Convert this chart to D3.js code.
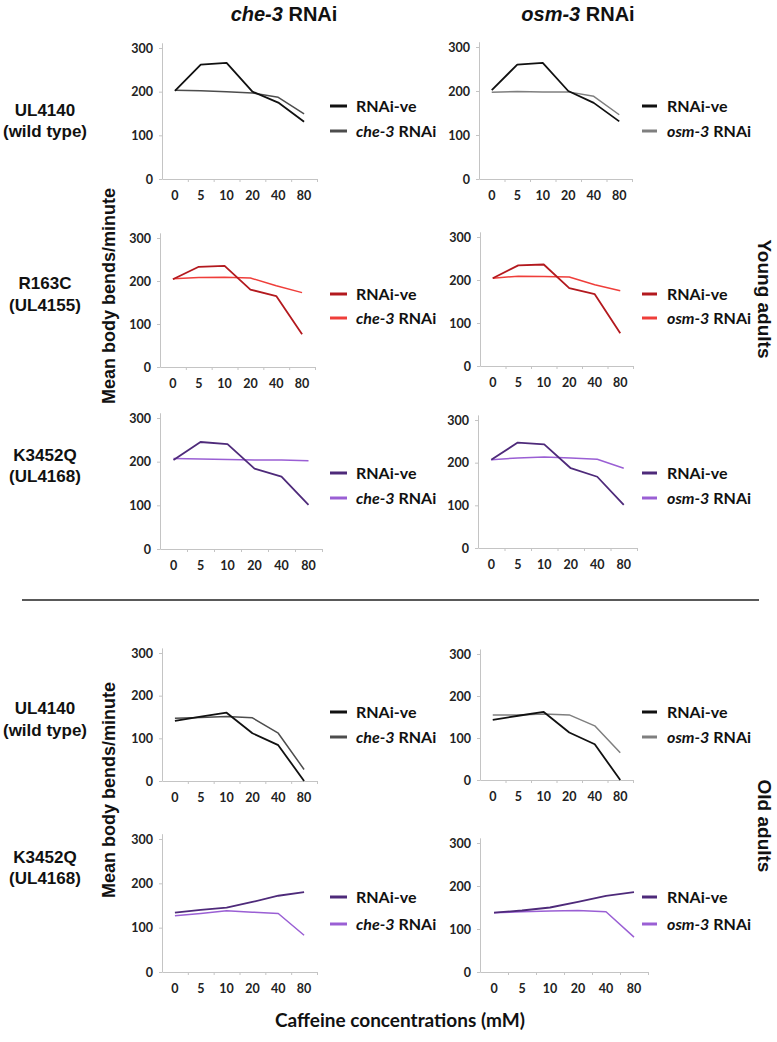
<!DOCTYPE html>
<html>
<head>
<meta charset="utf-8">
<script src="https://cdn.jsdelivr.net/npm/d3@7"></script>
<style>
  html, body { margin: 0; padding: 0; background: #fff; }
  svg { display: block; }
</style>
</head>
<body>
<svg id="chart" width="777" height="1042"></svg>
<script>
// ---------------- DATA ----------------
const concentrations = ["0", "5", "10", "20", "40", "80"];
const yTicks = [0, 100, 200, 300];
const columnGenes = ["che-3", "osm-3"];
const strainNames = [
  ["UL4140", "(wild type)"],
  ["R163C", "(UL4155)"],
  ["K3452Q", "(UL4168)"],
  ["UL4140", "(wild type)"],
  ["K3452Q", "(UL4168)"]
];
const ageGroups = ["Young adults", "Old adults"];
const controlLabel = "RNAi-ve";

// Young adults
const wtYoungCtrlChe = [202, 262, 266, 200, 175, 131];
const wtYoungChe3 = [203, 202, 200, 197, 187, 149];
const wtYoungCtrlOsm = [202, 260, 264, 200, 173, 131];
const wtYoungOsm3 = [197, 199, 198, 198, 188, 146];

const r163cCtrlChe = [204, 233, 235, 180, 165, 76];
const r163cChe3 = [205, 208, 209, 207, 189, 173];
const r163cCtrlOsm = [204, 234, 236, 181, 167, 76];
const r163cOsm3 = [204, 209, 208, 207, 189, 175];

const k3452qYoungCtrlChe = [204, 245, 240, 184, 166, 101];
const k3452qYoungChe3 = [207, 206, 205, 204, 204, 202];
const k3452qYoungCtrlOsm = [207, 247, 243, 187, 167, 101];
const k3452qYoungOsm3 = [207, 211, 213, 211, 208, 187];

// Old adults
const wtOldCtrlChe = [141, 151, 160, 112, 84, 0];
const wtOldChe3 = [147, 149, 151, 148, 112, 27];
const wtOldCtrlOsm = [143, 153, 162, 113, 85, 0];
const wtOldOsm3 = [155, 155, 157, 155, 129, 65];

const k3452qOldCtrlChe = [134, 140, 145, 158, 172, 180];
const k3452qOldChe3 = [127, 132, 138, 135, 132, 83];
const k3452qOldCtrlOsm = [138, 143, 150, 163, 177, 186];
const k3452qOldOsm3 = [138, 140, 142, 143, 140, 81];

// ---------------- STYLE / LAYOUT ----------------
const palette = {
  wt:     { ctrl: "#111111", che: "#4d4d4d", osm: "#7f7f7f" },
  r163c:  { ctrl: "#b3191e", che: "#ef3e3a", osm: "#ef3e3a" },
  k3452q: { ctrl: "#4e2a7a", che: "#9a5fd4", osm: "#9a5fd4" }
};

const panels = [
  { row: 0, col: 0, ctrl: wtYoungCtrlChe, rnai: wtYoungChe3, pal: palette.wt, key: "che" },
  { row: 0, col: 1, ctrl: wtYoungCtrlOsm, rnai: wtYoungOsm3, pal: palette.wt, key: "osm" },
  { row: 1, col: 0, ctrl: r163cCtrlChe, rnai: r163cChe3, pal: palette.r163c, key: "che" },
  { row: 1, col: 1, ctrl: r163cCtrlOsm, rnai: r163cOsm3, pal: palette.r163c, key: "osm" },
  { row: 2, col: 0, ctrl: k3452qYoungCtrlChe, rnai: k3452qYoungChe3, pal: palette.k3452q, key: "che" },
  { row: 2, col: 1, ctrl: k3452qYoungCtrlOsm, rnai: k3452qYoungOsm3, pal: palette.k3452q, key: "osm" },
  { row: 3, col: 0, ctrl: wtOldCtrlChe, rnai: wtOldChe3, pal: palette.wt, key: "che" },
  { row: 3, col: 1, ctrl: wtOldCtrlOsm, rnai: wtOldOsm3, pal: palette.wt, key: "osm" },
  { row: 4, col: 0, ctrl: k3452qOldCtrlChe, rnai: k3452qOldChe3, pal: palette.k3452q, key: "che" },
  { row: 4, col: 1, ctrl: k3452qOldCtrlOsm, rnai: k3452qOldOsm3, pal: palette.k3452q, key: "osm" }
];

const geom = [
  [{ x0: 162, x1: 317, y0: 179, y3: 48 }, { x0: 479, x1: 632, y0: 179, y3: 47 }],
  [{ x0: 160, x1: 315, y0: 367, y3: 238 }, { x0: 480, x1: 633, y0: 366, y3: 237 }],
  [{ x0: 160, x1: 322, y0: 549, y3: 418 }, { x0: 478, x1: 637, y0: 548, y3: 420 }],
  [{ x0: 162, x1: 317, y0: 781, y3: 653 }, { x0: 480, x1: 633, y0: 780, y3: 654 }],
  [{ x0: 162, x1: 317, y0: 972, y3: 839 }, { x0: 480, x1: 648, y0: 972, y3: 843 }]
];
const legendY = [[106, 131], [294, 318], [473, 498], [712, 737], [897, 924]];
const legendX = [{ l0: 330, l1: 347, t: 356 }, { l0: 642, l1: 657, t: 667 }];
const rowLabelY = [[110, 131], [283, 305], [455, 476], [708, 730], [857, 878]];

const TICK_FONT = "Lato, 'Open Sans', sans-serif";
const HEAD_FONT = "'Liberation Sans', Arial, sans-serif";
const AXIS_COLOR = "#c4c4c4";

const svg = d3.select("#chart");

// Column headers
columnGenes.forEach((g, i) => {
  const t = svg.append("text")
    .attr("x", i === 0 ? 284 : 578)
    .attr("y", 21)
    .attr("text-anchor", "middle")
    .attr("font-family", HEAD_FONT)
    .attr("font-weight", "bold")
    .attr("font-size", 20)
    .attr("fill", "#111");
  t.append("tspan").attr("font-style", "italic").text(g);
  t.append("tspan").text(" RNAi");
});

// Row labels
strainNames.forEach((lines, r) => {
  lines.forEach((s, k) => {
    svg.append("text")
      .attr("x", 45)
      .attr("y", rowLabelY[r][k])
      .attr("dy", "0.36em")
      .attr("text-anchor", "middle")
      .attr("font-family", HEAD_FONT)
      .attr("font-weight", "bold")
      .attr("font-size", 17)
      .attr("fill", "#111")
      .text(s);
  });
});

// Y axis titles
[296, 790].forEach(cy => {
  svg.append("text")
    .attr("transform", `translate(109,${cy}) rotate(-90)`)
    .attr("dy", "0.36em")
    .attr("text-anchor", "middle")
    .attr("font-family", HEAD_FONT)
    .attr("font-weight", "bold")
    .attr("font-size", 18)
    .attr("fill", "#111")
    .text("Mean body bends/minute");
});

// Age group labels on the right
[[ageGroups[0], 299], [ageGroups[1], 826]].forEach(([s, cy]) => {
  svg.append("text")
    .attr("transform", `translate(765,${cy}) rotate(90)`)
    .attr("dy", "0.36em")
    .attr("text-anchor", "middle")
    .attr("font-family", HEAD_FONT)
    .attr("font-weight", "bold")
    .attr("font-size", 19)
    .attr("fill", "#111")
    .text(s);
});

// Separator line
svg.append("line")
  .attr("x1", 22).attr("x2", 759)
  .attr("y1", 600).attr("y2", 600)
  .attr("stroke", "#222").attr("stroke-width", 1.3);

// X axis title
svg.append("text")
  .attr("x", 400).attr("y", 1020)
  .attr("dy", "0.36em")
  .attr("text-anchor", "middle")
  .attr("font-family", TICK_FONT)
  .attr("font-weight", "bold")
  .attr("font-size", 19)
  .attr("fill", "#111")
  .text("Caffeine concentrations (mM)");

// Panels
panels.forEach(p => {
  const g = geom[p.row][p.col];
  const y = d3.scaleLinear().domain([0, 300]).range([g.y0, g.y3]);
  const yExt = d3.scaleLinear().domain([0, 312]).range([g.y0, y(312)]);
  const x = d3.scaleBand().domain(concentrations).range([g.x0, g.x1]).padding(0);
  const xEdges = d3.scaleLinear().domain([0, concentrations.length]).range([g.x0, g.x1]);

  const pg = svg.append("g");

  // y axis
  const ya = pg.append("g")
    .attr("transform", `translate(${g.x0},0)`)
    .call(d3.axisLeft(yExt).tickValues(yTicks).tickSize(3).tickSizeOuter(0).tickPadding(6));
  ya.select(".domain").attr("stroke", AXIS_COLOR);
  ya.selectAll(".tick line").attr("stroke", AXIS_COLOR);
  ya.selectAll(".tick text")
    .attr("font-family", TICK_FONT).attr("font-weight", "bold")
    .attr("font-size", 12.5).attr("fill", "#222");

  // x axis: edge ticks
  const xe = pg.append("g")
    .attr("transform", `translate(0,${g.y0})`)
    .call(d3.axisBottom(xEdges).tickValues(d3.range(1, concentrations.length + 1))
      .tickSize(3).tickSizeOuter(0).tickFormat(""));
  xe.select(".domain").attr("stroke", AXIS_COLOR);
  xe.selectAll(".tick line").attr("stroke", AXIS_COLOR);

  // x axis: category labels
  const xl = pg.append("g")
    .attr("transform", `translate(0,${g.y0})`)
    .call(d3.axisBottom(x).tickSize(0).tickPadding(12));
  xl.select(".domain").remove();
  xl.selectAll(".tick text")
    .attr("font-family", TICK_FONT).attr("font-weight", "bold")
    .attr("font-size", 12.5).attr("fill", "#222");

  const line = d3.line()
    .x((d, i) => x(concentrations[i]) + x.bandwidth() / 2)
    .y(d => y(d));

  pg.append("path").datum(p.rnai)
    .attr("d", line).attr("fill", "none")
    .attr("stroke", p.pal[p.key]).attr("stroke-width", 1.5)
    .attr("stroke-linejoin", "round");
  pg.append("path").datum(p.ctrl)
    .attr("d", line).attr("fill", "none")
    .attr("stroke", p.pal.ctrl).attr("stroke-width", 1.8)
    .attr("stroke-linejoin", "round");

  // legend
  const lx = legendX[p.col];
  const ly = legendY[p.row];
  const items = [
    { color: p.pal.ctrl, gene: null },
    { color: p.pal[p.key], gene: columnGenes[p.col] }
  ];
  items.forEach((it, k) => {
    pg.append("line")
      .attr("x1", lx.l0).attr("x2", lx.l1)
      .attr("y1", ly[k]).attr("y2", ly[k])
      .attr("stroke", it.color).attr("stroke-width", 3);
    const t = pg.append("text")
      .attr("x", lx.t).attr("y", ly[k]).attr("dy", "0.36em")
      .attr("font-family", TICK_FONT).attr("font-weight", "bold")
      .attr("font-size", 16).attr("fill", "#111");
    if (it.gene) {
      t.append("tspan").attr("font-style", "italic").text(it.gene);
      t.append("tspan").text(" RNAi");
    } else {
      t.text(controlLabel);
    }
  });
});
</script>
</body>
</html>
